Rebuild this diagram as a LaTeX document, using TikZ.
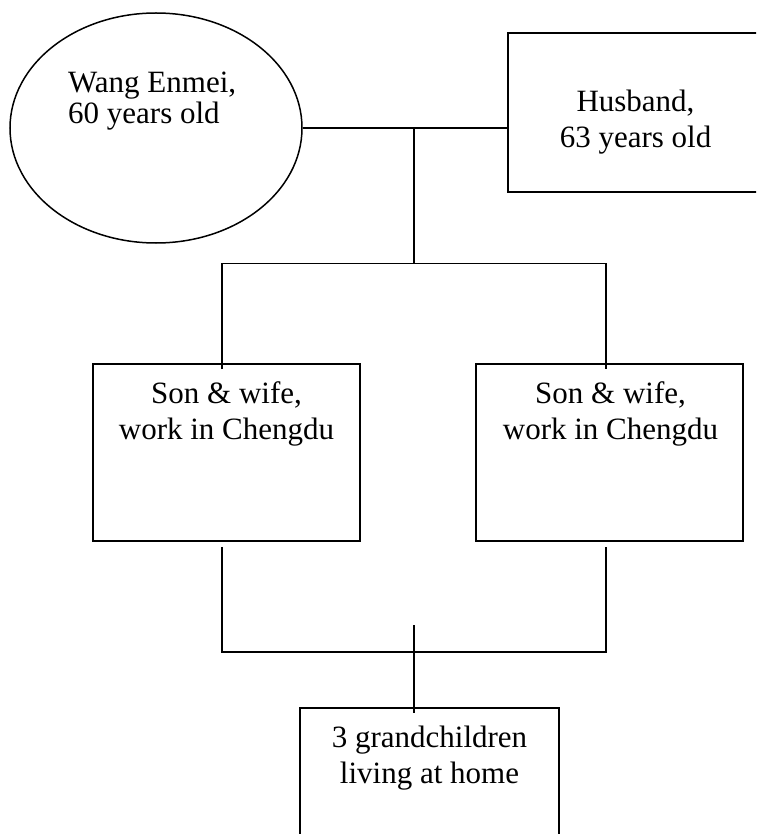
\documentclass[tikz,border=0pt]{standalone}
\usepackage{fontspec}
\setmainfont{Liberation Serif}
\usetikzlibrary{shapes.geometric}
\begin{document}
\begin{tikzpicture}[x=1pt,y=-1pt,
  person/.style={draw=black, line width=1.8pt, rectangle, inner sep=0pt},
  oval/.style={draw=black, line width=1.5pt, ellipse, inner sep=0pt},
  link/.style={draw=black, line width=1.8pt},
  caption/.style={inner sep=0pt, anchor=north, align=center,
    font=\fontsize{31}{36.6}\selectfont},
]
\fill[white] (0,0) rectangle (756,834);
\clip (0,0) rectangle (756,834);

% grandparents
\node[oval, minimum width=292pt, minimum height=230pt] (wang) at (156,128) {};
\node[caption, anchor=north west, align=left,
  font=\fontsize{31}{30.5}\selectfont] (wangtxt) at (68,70.6)
  {\strut Wang Enmei,\\60 years old};

\node[person, minimum width=255pt, minimum height=159pt] (husband) at (635.5,112.5) {};
\node[caption] (husbandtxt) at ([yshift=-53.1pt]husband.north)
  {\strut Husband,\\63 years old};

% sons and their wives
\node[person, minimum width=267pt, minimum height=177pt] (son1) at (226.5,452.5) {};
\node[caption] (son1txt) at ([yshift=-14.4pt]son1.north)
  {\strut Son \& wife,\\work in Chengdu};

\node[person, minimum width=267pt, minimum height=177pt] (son2) at (609.5,452.5) {};
\node[caption] (son2txt) at ([xshift=1pt,yshift=-14.4pt]son2.north)
  {\strut Son \& wife,\\work in Chengdu};

% grandchildren
\node[person, minimum width=259pt, minimum height=177pt] (kids) at (429.5,796.5) {};
\node[caption] (kidstxt) at ([yshift=-14.4pt]kids.north)
  {\strut 3 grandchildren\\living at home};

% junction points of the family lines
\coordinate (couple) at (413.7,128);
\coordinate (fork) at (413.7,263.5);
\coordinate (join) at (413.7,652);
\coordinate (stub) at (413.7,625);

% connectors
\draw[link] (wang.east) -- (wang.east -| husband.west);
\draw[link] (couple) -- (fork);
\draw[link] ([xshift=-4.8pt,yshift=-6pt]son1.north) |- (fork)
  -| ([xshift=-3.8pt,yshift=-6pt]son2.north);
\draw[link] ([xshift=-4.8pt,yshift=-5pt]son1.south) |- (join)
  -| ([xshift=-3.8pt,yshift=-5pt]son2.south);
\draw[link] (stub) -- ([xshift=-15.8pt,yshift=-6pt]kids.north);
\end{tikzpicture}
\end{document}
